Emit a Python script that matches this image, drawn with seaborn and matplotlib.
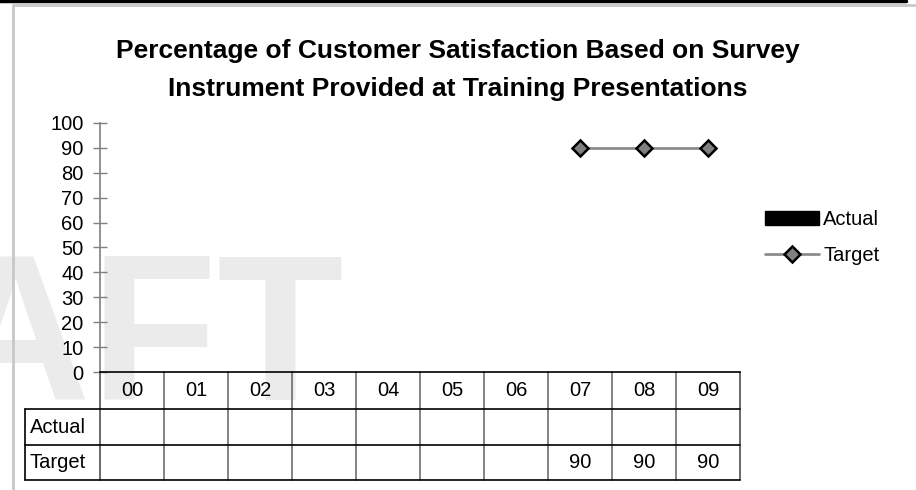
import numpy as np
import pandas as pd
import matplotlib
matplotlib.use("Agg")
import matplotlib.pyplot as plt
import seaborn as sns
from matplotlib.lines import Line2D
from matplotlib.patches import Patch
from matplotlib.transforms import blended_transform_factory

# ---- data -------------------------------------------------------------
years = ["00", "01", "02", "03", "04", "05", "06", "07", "08", "09"]
actual = [np.nan] * 10
target = [np.nan] * 7 + [90, 90, 90]
y_ticks = list(range(0, 101, 10))
series_names = ["Actual", "Target"]
title_lines = [
    "Percentage of Customer Satisfaction Based on Survey",
    "Instrument Provided at Training Presentations",
]

# ---- style ------------------------------------------------------------
sns.set_theme(style="white")
plt.rcParams["font.family"] = ["Liberation Sans", "DejaVu Sans"]
plt.rcParams["text.color"] = "black"

W, H = 916, 490
fig = plt.figure(figsize=(W / 100, H / 100), dpi=100)
fig.patch.set_facecolor("white")


def fx(px):
    return px / W


def fy(py):
    return 1 - py / H


FS = 14.5
LINE_GREY = "#8c8c8c"

# background watermark
fig.text(fx(344), fy(399), "DRAFT", ha="right", va="baseline",
         fontsize=149, fontweight="bold", color="#ebebeb", zorder=-1,
         family=["Liberation Sans Narrow", "Liberation Sans"])

# page frame
fig.add_artist(Line2D([fx(0), fx(906)], [fy(1.5), fy(1.5)], color="black", lw=2.5))
fig.add_artist(Line2D([fx(13), fx(13)], [fy(5), fy(490)], color="#c8c8c8", lw=2))
fig.add_artist(Line2D([fx(13), fx(916)], [fy(5), fy(5)], color="#c8c8c8", lw=2))

# ---- plot area --------------------------------------------------------
ax = fig.add_axes([fx(100), fy(372), fx(740) - fx(100), fy(123) - fy(372)])
ax.patch.set_visible(False)

df = pd.DataFrame({"year": years, "pos": np.arange(len(years)),
                   "Actual": actual, "Target": target})

ax.bar(df["pos"], df["Actual"].fillna(0), width=0.5, color="black")
sns.lineplot(data=df, x="pos", y="Target", ax=ax, color=LINE_GREY, lw=2,
             marker="D", markersize=8.5, markerfacecolor="#808080",
             markeredgecolor="black", markeredgewidth=1.8, legend=False)

ax.set_xlim(-0.5, len(years) - 0.5)
ax.set_ylim(0, 100)
ax.set_yticks(y_ticks)
ax.set_xticks([])
ax.set_xlabel("")
ax.set_ylabel("")
sns.despine(ax=ax, top=True, right=True)
ax.spines["left"].set_color("#808080")
ax.spines["left"].set_linewidth(1.2)
ax.spines["bottom"].set_color("black")
ax.spines["bottom"].set_linewidth(1.2)
ax.tick_params(axis="y", left=True, direction="inout", length=9.5, width=1,
               color="#808080", labelsize=FS, pad=7.0, labelcolor="black")

# ---- data table under the axis ---------------------------------------
trans = blended_transform_factory(ax.transData, fig.transFigure)
row_edges = [372, 409, 445, 480]
col_w_px = 64
label_left = -0.5 - 75 / col_w_px
right = len(years) - 0.5

for i in range(len(years) + 1):
    xb = -0.5 + i
    ax.plot([xb, xb], [fy(row_edges[0]), fy(row_edges[-1])], transform=trans,
            clip_on=False, color="#6e6e6e" if 0 < i < len(years) else "#505050", lw=1.2)
ax.plot([label_left, label_left], [fy(row_edges[1]), fy(row_edges[-1])],
        transform=trans, clip_on=False, color="black", lw=1.2)
for r in row_edges[1:]:
    ax.plot([label_left, right], [fy(r), fy(r)], transform=trans,
            clip_on=False, color="black", lw=1.2)

for i, yr in enumerate(years):
    ax.text(i, fy((row_edges[0] + row_edges[1]) / 2), yr, transform=trans,
            ha="center", va="center", fontsize=FS)

for k, (name, vals) in enumerate(zip(series_names, [actual, target])):
    yc = fy((row_edges[k + 1] + row_edges[k + 2]) / 2)
    ax.text(label_left + 5 / col_w_px, yc, name, transform=trans,
            ha="left", va="center", fontsize=FS)
    for i, v in enumerate(vals):
        if not np.isnan(v):
            ax.text(i, yc, f"{v:g}", transform=trans, ha="center",
                    va="center", fontsize=FS)

# ---- title ------------------------------------------------------------
fig.text(fx(458), fy(51), title_lines[0], ha="center", va="center",
         fontsize=19, fontweight="bold")
fig.text(fx(458), fy(89), title_lines[1], ha="center", va="center",
         fontsize=19, fontweight="bold")

# ---- legend -----------------------------------------------------------
handles = [
    Patch(facecolor="black", edgecolor="black", label=series_names[0]),
    Line2D([], [], color=LINE_GREY, lw=2, marker="D", markersize=8.5,
           markerfacecolor="#808080", markeredgecolor="black",
           markeredgewidth=1.8, label=series_names[1]),
]
fig.legend(handles=handles, loc="upper left",
           bbox_to_anchor=(fx(765), fy(210)), frameon=False, fontsize=FS,
           handlelength=2.7, handletextpad=0.2, labelspacing=0.85,
           borderaxespad=0, borderpad=0)

fig.savefig("out.png", dpi=100, facecolor="white")
